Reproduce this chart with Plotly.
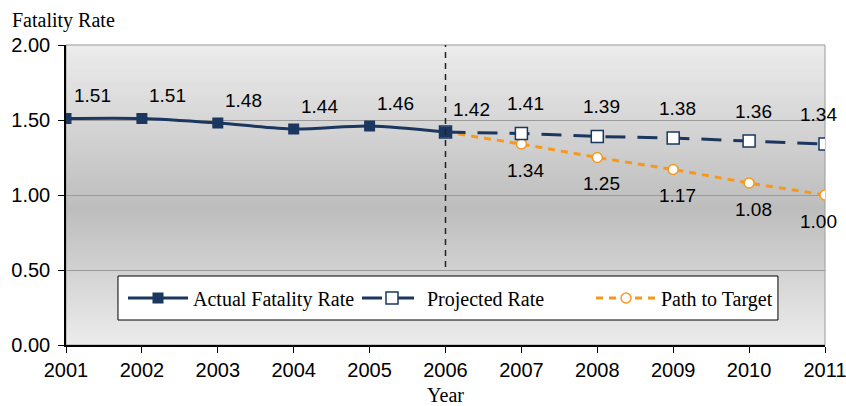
import plotly.graph_objects as go

years_actual = [2001, 2002, 2003, 2004, 2005, 2006]
actual_rate = [1.51, 1.51, 1.48, 1.44, 1.46, 1.42]

years_proj = [2006, 2007, 2008, 2009, 2010, 2011]
projected_rate = [1.42, 1.41, 1.39, 1.38, 1.36, 1.34]
target_rate = [1.42, 1.34, 1.25, 1.17, 1.08, 1.00]

x_ticks = list(range(2001, 2012))
y_ticks = [0.0, 0.5, 1.0, 1.5, 2.0]
divider_year = 2006

NAVY = "#1B375F"
ORANGE = "#F7981D"
SANS = "Liberation Sans, Arial, sans-serif"
SERIF = "Liberation Serif, Times New Roman, serif"
TICK_SIZE = 20
LABEL_SIZE = 19
SERIF_SIZE = 20

fig = go.Figure()

fig.add_trace(go.Scatter(
    x=years_proj, y=target_rate, name="Path to Target", mode="lines+markers",
    line=dict(color=ORANGE, width=3, dash="7px,6px"),
    marker=dict(symbol="circle", size=10, color="white", line=dict(color=ORANGE, width=1.5)),
    legendrank=3,
))
fig.add_trace(go.Scatter(
    x=years_proj, y=projected_rate, name="Projected Rate", mode="lines+markers",
    line=dict(color=NAVY, width=3, dash="20px,12px"),
    marker=dict(symbol="square", size=12, color="white", line=dict(color=NAVY, width=1.5)),
    legendrank=2,
))
fig.add_trace(go.Scatter(
    x=years_actual, y=actual_rate, name="Actual Fatality Rate", mode="lines+markers",
    line=dict(color=NAVY, width=3, shape="spline", smoothing=0.8),
    marker=dict(symbol="square", size=11, color=NAVY),
    legendrank=1,
))

# gradient background (light -> darker -> light)
def lerp(a, b, t):
    return int(round(a + (b - a) * t))

n_bands = 100
top_c, mid_c, bot_c = 236, 189, 236
dark_pos = 0.55
for i in range(n_bands):
    f = (i + 0.5) / n_bands
    if f < dark_pos:
        v = lerp(top_c, mid_c, f / dark_pos)
    else:
        v = lerp(mid_c, bot_c, (f - dark_pos) / (1 - dark_pos))
    y1 = 1 - i / n_bands
    y0 = 1 - (i + 1) / n_bands
    fig.add_shape(type="rect", xref="paper", yref="paper", x0=0, x1=1, y0=y0 - 0.001, y1=y1 + 0.001,
                  fillcolor=f"rgb({v},{v},{v})", line=dict(width=0), layer="below")

# plot-area border (gray)
fig.add_shape(type="rect", xref="paper", yref="paper", x0=0, x1=1, y0=0, y1=1,
              line=dict(color="#9a9a9a", width=1), fillcolor="rgba(0,0,0,0)", layer="below")

# vertical dashed divider
fig.add_shape(type="line", xref="x", yref="y", x0=divider_year, x1=divider_year, y0=0.52, y1=2.0,
              line=dict(color="#222222", width=1.5, dash="6px,5px"), layer="above")

# legend box
fig.add_shape(type="rect", xref="paper", yref="paper", x0=0.0685, x1=0.938, y0=0.0833, y1=0.23,
              line=dict(color="black", width=1), fillcolor="white", layer="above")

# data labels
ann_font = dict(family=SANS, size=LABEL_SIZE, color="black")
last_year = max(years_proj)


def add_labels(xs, vs, xshift, yshift):
    for x, v in zip(xs, vs):
        if x == last_year:
            fig.add_annotation(x=x, y=v, text=f"{v:.2f}", showarrow=False, font=ann_font,
                               xanchor="right", xshift=14, yshift=yshift)
        else:
            fig.add_annotation(x=x, y=v, text=f"{v:.2f}", showarrow=False, font=ann_font,
                               xshift=xshift, yshift=yshift)


add_labels(years_actual, actual_rate, 26, 23)
add_labels(years_proj[1:], projected_rate[1:], 4, 30)
add_labels(years_proj[1:], target_rate[1:], 4, -26)

fig.update_layout(
    width=846, height=406,
    margin=dict(l=66, r=21, t=45, b=61),
    paper_bgcolor="white",
    plot_bgcolor="rgba(0,0,0,0)",
    showlegend=True,
    title=dict(text="Fatality Rate", x=12 / 846, xref="container", xanchor="left",
               y=1 - 20 / 406, yref="container", yanchor="middle",
               font=dict(family=SERIF, size=SERIF_SIZE, color="black")),
    legend=dict(orientation="h", x=(123 - 66) / 759, xanchor="left", y=0.1567, yanchor="middle",
                bgcolor="rgba(0,0,0,0)", borderwidth=0,
                font=dict(family=SERIF, size=SERIF_SIZE, color="black"),
                entrywidth=159, entrywidthmode="pixels",
                itemwidth=60, traceorder="normal"),
    xaxis=dict(range=[2001, 2011], tickvals=x_ticks, ticktext=[str(t) for t in x_ticks],
               showgrid=False, zeroline=False, showline=True, linecolor="black", linewidth=1.5,
               ticks="outside", ticklen=6, tickcolor="black", ticklabeloverflow="allow",
               tickfont=dict(family=SANS, size=TICK_SIZE, color="black"),
               title=dict(text="Year", font=dict(family=SERIF, size=SERIF_SIZE, color="black"), standoff=12),
               automargin=False, fixedrange=True),
    yaxis=dict(range=[0, 2], tickvals=y_ticks, ticktext=[f"{t:.2f}" for t in y_ticks],
               showgrid=True, gridcolor="#9a9a9a", gridwidth=1, zeroline=False,
               showline=True, linecolor="black", linewidth=1.5,
               ticks="outside", ticklen=6, tickcolor="black", ticklabelstandoff=4,
               ticklabeloverflow="allow",
               tickfont=dict(family=SANS, size=TICK_SIZE, color="black"),
               automargin=False, fixedrange=True),
)

fig.write_html("out.html", config={"displayModeBar": False},
               post_script="document.body.style.margin='0';document.body.style.overflow='hidden';")
